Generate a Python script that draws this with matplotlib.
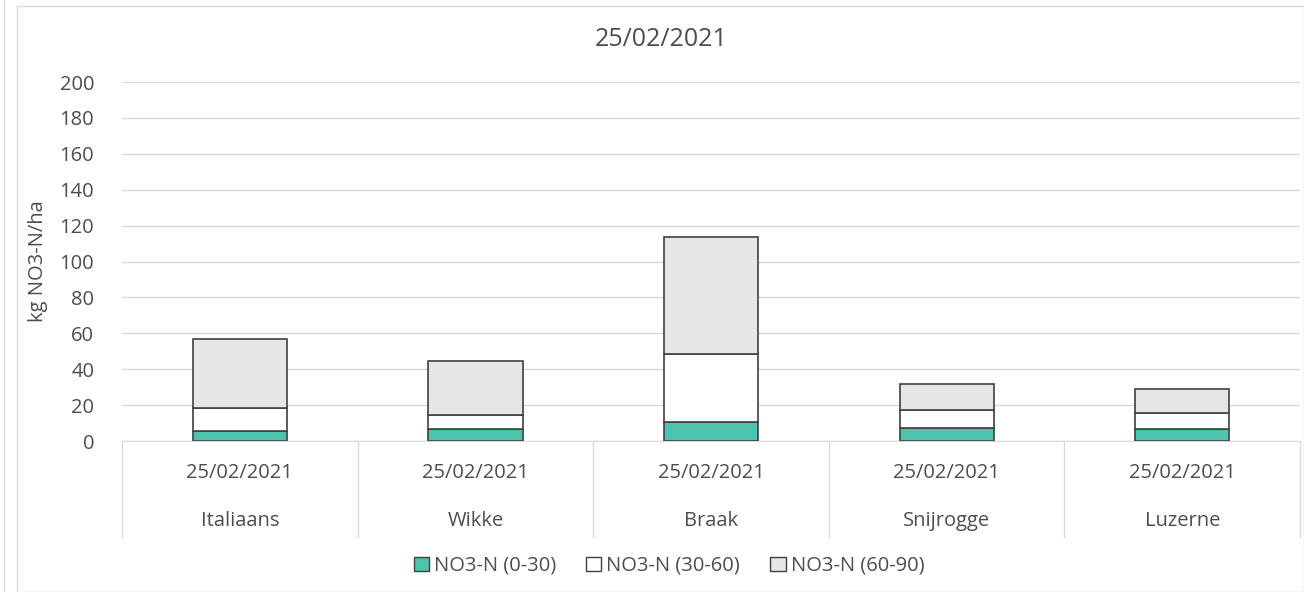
import matplotlib
matplotlib.use("Agg")
import matplotlib.pyplot as plt
import matplotlib.patches as mpatches
import matplotlib.transforms as mtransforms
import numpy as np

plt.rcParams['font.family'] = ['Open Sans', 'DejaVu Sans']

categories = ["Italiaans", "Wikke", "Braak", "Snijrogge", "Luzerne"]
dates = ["25/02/2021"] * 5
series_names = ["NO3-N (0-30)", "NO3-N (30-60)", "NO3-N (60-90)"]
no3_0_30 = [5.5, 6.7, 10.4, 7.4, 6.7]
no3_30_60 = [13.0, 8.0, 38.0, 10.0, 8.7]
no3_60_90 = [38.5, 30.0, 65.0, 14.5, 13.4]
colors = ["#4dc4ae", "#ffffff", "#e5e6e8"]
txt = "#4d4d4d"

fig = plt.figure(figsize=(13.04, 5.92), dpi=100)
ax = fig.add_axes([0.0936, 0.255, 0.9034, 0.6064])

# chart border
fig.patches.append(mpatches.Rectangle((17 / 1304, 0), 1 - 17 / 1304, 1 - 6 / 592,
                                      transform=fig.transFigure, fill=False,
                                      edgecolor="#d9d9d9", lw=1))
fig.add_artist(plt.Line2D([4 / 1304, 4 / 1304], [0, 1], transform=fig.transFigure,
                          color="#d9d9d9", lw=1))

x = np.arange(len(categories)) + 0.5
bottom = np.zeros(len(categories))
for vals, col in zip([no3_0_30, no3_30_60, no3_60_90], colors):
    ax.bar(x, vals, width=0.40, bottom=bottom, color=col, edgecolor="#404040",
           linewidth=1.2, zorder=3)
    bottom += np.array(vals)

ax.set_xlim(0, len(categories))
ax.set_ylim(0, 200)
ax.set_yticks(range(0, 201, 20))
ax.tick_params(axis="y", length=0, labelsize=14.5, labelcolor=txt, pad=20)
ax.set_xticks([])
ax.grid(axis="y", color="#d9d9d9", lw=1, zorder=0)
for s in ["top", "right", "left"]:
    ax.spines[s].set_visible(False)
ax.spines["bottom"].set_color("#d9d9d9")
ax.set_ylabel("kg NO3-N/ha", fontsize=14.5, color=txt)
ax.yaxis.set_label_coords(-0.063, 0.5)

fig.text(0.507, 1 - 40 / 592, "25/02/2021", ha="center", va="center",
         fontsize=18, color=txt)

# two-level category axis
trans = mtransforms.blended_transform_factory(ax.transData, ax.transAxes)
for i in range(len(categories) + 1):
    ax.plot([i, i], [0, -0.267], transform=trans, color="#d9d9d9", lw=1,
            clip_on=False)
for xi, d, c in zip(x, dates, categories):
    ax.text(xi, -0.09, d, transform=trans, ha="center", va="center",
            fontsize=14.5, color=txt)
    ax.text(xi, -0.223, c, transform=trans, ha="center", va="center",
            fontsize=14.5, color=txt)

handles = [mpatches.Patch(facecolor=c, edgecolor="#404040", label=n)
           for c, n in zip(colors, series_names)]
fig.legend(handles=handles, loc="center", bbox_to_anchor=(0.513, 1 - 566 / 592),
           ncol=3, frameon=False, fontsize=14.5, handlelength=0.75, handleheight=0.75,
           handletextpad=0.25, columnspacing=1.5, labelcolor=txt)

fig.savefig("out.png", dpi=100)
